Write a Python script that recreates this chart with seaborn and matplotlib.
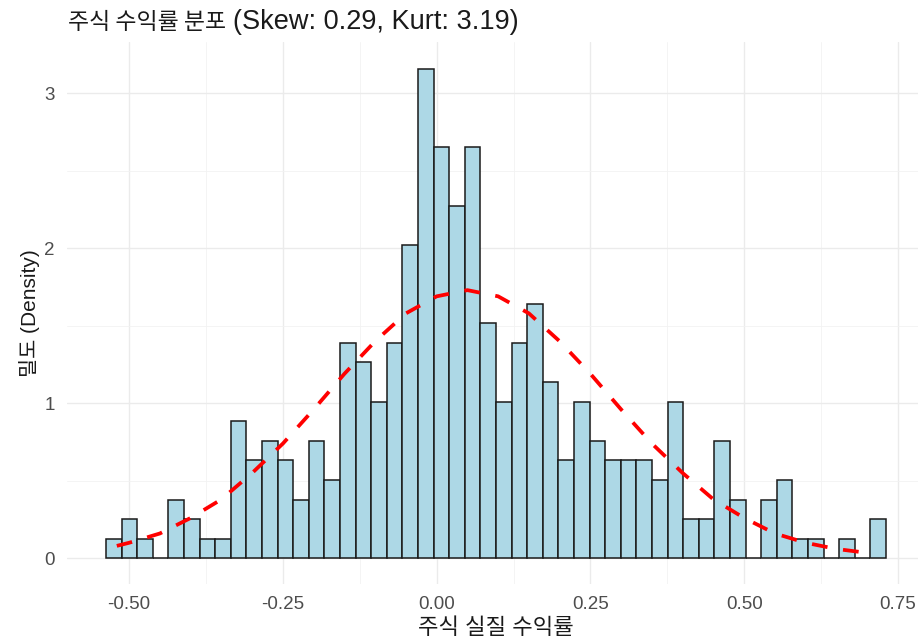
import numpy as np
import pandas as pd
import seaborn as sns
import matplotlib
matplotlib.use("Agg")
import matplotlib.pyplot as plt
from matplotlib.ticker import FixedLocator, MultipleLocator

# Real stock returns: 50 equal-width bins over this range, count in each bin
bin_range = (-0.5377, 0.7306)
n_bins = 50
bin_counts = [1, 2, 1, 0, 3, 2, 1, 1, 7, 5, 6, 5, 3, 6, 4, 11, 10, 8, 11, 16,
              25, 21, 18, 21, 12, 8, 11, 13, 9, 5, 8, 6, 5, 5, 5, 4, 8, 2, 2, 6,
              3, 0, 3, 4, 1, 1, 0, 1, 0, 2]

# Reference density curve (fitted normal) sampled along the return axis
curve_x = [-0.52, -0.50, -0.45, -0.40, -0.35, -0.30, -0.25, -0.20, -0.15, -0.10,
           -0.05, 0.00, 0.05, 0.10, 0.15, 0.20, 0.25, 0.30, 0.35, 0.40,
           0.45, 0.50, 0.55, 0.60, 0.65, 0.69]
curve_density = [0.08, 0.10, 0.16, 0.26, 0.38, 0.55, 0.74, 0.96, 1.19, 1.40,
                 1.58, 1.69, 1.73, 1.69, 1.58, 1.40, 1.19, 0.96, 0.74, 0.55,
                 0.38, 0.26, 0.16, 0.10, 0.06, 0.04]

x_ticks = [-0.50, -0.25, 0.00, 0.25, 0.50, 0.75]
x_tick_labels = ["-0.50", "-0.25", "0.00", "0.25", "0.50", "0.75"]
y_ticks = [0, 1, 2, 3]
y_tick_labels = ["0", "1", "2", "3"]

title_ko = "주식 수익률 분포"
title_stats = "(Skew: 0.29, Kurt: 3.19)"
x_label = "주식 실질 수익률"
y_label = "밀도 (Density)"

bin_edges = np.linspace(bin_range[0], bin_range[1], n_bins + 1)
bin_centers = (bin_edges[:-1] + bin_edges[1:]) / 2
hist_df = pd.DataFrame({"ret": bin_centers, "n": bin_counts})
curve_df = pd.DataFrame({"ret": curve_x, "density": curve_density})

sns.set_theme(style="whitegrid")
plt.rcParams["font.family"] = ["Liberation Sans", "Noto Sans CJK KR"]

W, H = 918, 641
fig = plt.figure(figsize=(W / 100, H / 100), dpi=100)
fig.patch.set_facecolor("white")
ax = fig.add_axes([67 / W, 1 - 584 / H, 858 / W, 542 / H])
ax.set_facecolor("white")

sns.histplot(data=hist_df, x="ret", weights="n", bins=n_bins, binrange=bin_range,
             stat="density", color="#ADD8E6", edgecolor="#1a1a1a",
             linewidth=1.1, alpha=1.0, ax=ax, zorder=2)

sns.lineplot(data=curve_df, x="ret", y="density", color="#FF0000", linewidth=2.7,
             estimator=None, ax=ax, zorder=3)
ax.lines[-1].set_dashes([4.2, 4.2])

ax.set_xlim(-0.601, 0.794)
ax.set_ylim(-0.166, 3.331)

ax.xaxis.set_major_locator(FixedLocator(x_ticks))
ax.set_xticklabels(x_tick_labels)
ax.yaxis.set_major_locator(FixedLocator(y_ticks))
ax.set_yticklabels(y_tick_labels)
ax.xaxis.set_minor_locator(MultipleLocator(0.125))
ax.yaxis.set_minor_locator(MultipleLocator(0.5))

ax.grid(which="major", color="#EBEBEB", linewidth=1.0)
ax.grid(which="minor", color="#F2F2F2", linewidth=0.6)
ax.set_axisbelow(True)
for s in ax.spines.values():
    s.set_visible(False)

ax.tick_params(axis="both", which="both", length=0, labelsize=13.5,
               labelcolor="#4D4D4D")
ax.tick_params(axis="x", pad=8.5)
ax.tick_params(axis="y", pad=9)

ax.set_xlabel(x_label, fontsize=16, color="#1a1a1a")
ax.xaxis.set_label_coords(0.5, (584 - 629) / 542)
ax.xaxis.label.set_va("center")
ax.set_ylabel(y_label, fontsize=15, color="#1a1a1a")
ax.yaxis.set_label_coords((29 - 67) / 858, 0.5)
ax.yaxis.label.set_va("center")

t1 = fig.text(68 / W, 1 - 29 / H, title_ko, fontsize=16.5, va="baseline",
              ha="left", color="#1a1a1a", family=["Noto Sans CJK KR"])
ax.annotate(title_stats, xy=(1, 1 - 29 / H), xycoords=(t1, "figure fraction"),
            xytext=(5, 0), textcoords="offset points", va="baseline", ha="left",
            fontsize=19.5, color="#1a1a1a",
            family=["Liberation Sans", "Noto Sans CJK KR"],
            annotation_clip=False)

fig.savefig("out.png", dpi=100, facecolor="white")
